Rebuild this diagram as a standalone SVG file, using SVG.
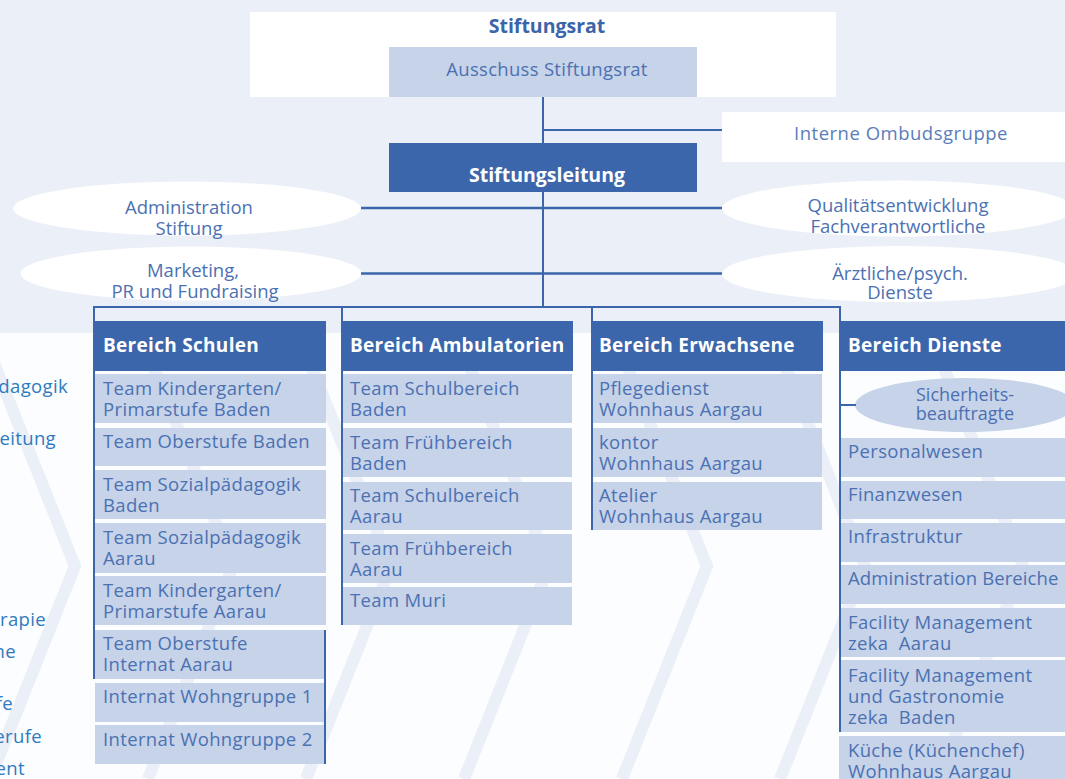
<svg xmlns="http://www.w3.org/2000/svg" width="1065" height="779" viewBox="0 0 1065 779">
<defs>
<style>
.bgt{fill:#EBEFF7}
.bgb{fill:#FCFDFE}
.chev{fill:none;stroke:#EBEFF7;stroke-width:12}
.conn{stroke:#3B66AB;stroke-width:2;fill:none}
.conn2{stroke:#3B66AB;stroke-width:2.5;fill:none}
.hdr{fill:#3B66AB}
.box{fill:#C6D3E9}
.white{fill:#FFFFFF}
.ell{fill:#FFFFFF}
.ellb{fill:#C6D3E9}
text{font-family:'Open Sans','Noto Sans','DejaVu Sans',sans-serif}
.ti{font-size:18.5px;fill:#4C71B2;letter-spacing:0.35px}
.th{font-size:19px;font-weight:bold;fill:#FFFFFF;letter-spacing:0.3px}
.tb{font-size:19.5px;font-weight:bold;text-anchor:middle}
.te{font-size:18.5px;fill:#4C71B2;text-anchor:middle}
.ts{font-size:18.5px;fill:#2E7BC0;text-anchor:end;letter-spacing:0.35px}
</style>
<clipPath id="lower"><rect x="0" y="333" width="1065" height="446"/></clipPath>
</defs>
<rect class="bgb" x="0" y="0" width="1065" height="779"/>
<rect class="bgt" x="0" y="0" width="1065" height="333"/>
<g clip-path="url(#lower)">
<polyline class="chev" points="-18,333 75,566 -10,779"/>
<polyline class="chev" points="140,333 233,566 148,779"/>
<polyline class="chev" points="298,333 391,566 306,779"/>
<polyline class="chev" points="456,333 549,566 464,779"/>
<polyline class="chev" points="614,333 707,566 622,779"/>
<polyline class="chev" points="772,333 865,566 780,779"/>
<polyline class="chev" points="930,333 1023,566 938,779"/>
</g>
<g id="side-text">
<text class="ts" x="68" y="393">dagogik</text>
<text class="ts" x="56" y="445">eitung</text>
<text class="ts" x="46" y="626">rapie</text>
<text class="ts" x="16" y="658">ne</text>
<text class="ts" x="13" y="710">fe</text>
<text class="ts" x="42" y="743">erufe</text>
<text class="ts" x="25" y="775">ent</text>
</g>
<g id="stiftungsrat">
<rect class="white" x="250" y="12" width="586" height="85"/>
<text class="tb" x="547" y="33" fill="#3A65AA">Stiftungsrat</text>
</g>
<g id="ausschuss">
<rect class="box" x="389" y="47" width="308" height="50"/>
<text class="te" x="547" y="76" style="letter-spacing:0.3px">Ausschuss Stiftungsrat</text>
</g>
<g id="ombuds">
<rect class="white" x="722" y="112" width="343" height="50"/>
<text class="te" x="901" y="140" style="letter-spacing:0.5px;fill:#5A7DBA">Interne Ombudsgruppe</text>
</g>
<g id="leitung">
<rect class="hdr" x="389" y="143" width="308" height="49"/>
<text class="tb" x="547" y="182" fill="#FFFFFF">Stiftungsleitung</text>
</g>
<g id="admin">
<ellipse class="ell" cx="187" cy="208.5" rx="174" ry="27"/>
<text class="te" x="189" y="213.5">Administration</text>
<text class="te" x="189" y="234.5">Stiftung</text>
</g>
<g id="marketing">
<ellipse class="ell" cx="191" cy="273.5" rx="170.5" ry="27"/>
<text class="te" x="193" y="277">Marketing,</text>
<text class="te" x="195" y="297.5">PR und Fundraising</text>
</g>
<g id="qualitaet">
<ellipse class="ell" cx="898" cy="208.5" rx="176" ry="28"/>
<text class="te" x="898" y="212">Qualitätsentwicklung</text>
<text class="te" x="898" y="233">Fachverantwortliche</text>
</g>
<g id="aerztlich">
<ellipse class="ell" cx="900" cy="274" rx="178" ry="28"/>
<text class="te" x="900" y="280">Ärztliche/psych.</text>
<text class="te" x="900" y="299">Dienste</text>
</g>
<g id="schulen">
<rect class="hdr" x="94" y="321" width="232" height="50"/>
<text class="th" x="103" y="352">Bereich Schulen</text>
<rect class="box" x="95" y="374" width="231" height="49"/>
<text class="ti" x="103" y="394.5">Team Kindergarten/</text>
<text class="ti" x="103" y="415.5">Primarstufe Baden</text>
<rect class="box" x="95" y="428" width="231" height="38"/>
<text class="ti" x="103" y="447.5">Team Oberstufe Baden</text>
<rect class="box" x="95" y="470" width="231" height="49"/>
<text class="ti" x="103" y="490.5">Team Sozialpädagogik</text>
<text class="ti" x="103" y="511.5">Baden</text>
<rect class="box" x="95" y="523" width="231" height="50"/>
<text class="ti" x="103" y="543.5">Team Sozialpädagogik</text>
<text class="ti" x="103" y="564.5">Aarau</text>
<rect class="box" x="95" y="576" width="231" height="49"/>
<text class="ti" x="103" y="596.5">Team Kindergarten/</text>
<text class="ti" x="103" y="617.5">Primarstufe Aarau</text>
<rect class="box" x="95" y="630" width="231" height="49"/>
<text class="ti" x="103" y="649.5">Team Oberstufe</text>
<text class="ti" x="103" y="670.5">Internat Aarau</text>
<rect class="box" x="95" y="683" width="231" height="39"/>
<text class="ti" x="103" y="703">Internat Wohngruppe 1</text>
<rect class="box" x="95" y="725" width="231" height="39"/>
<text class="ti" x="103" y="746">Internat Wohngruppe 2</text>
</g>
<g id="ambulatorien">
<rect class="hdr" x="342" y="321" width="231" height="50"/>
<text class="th" x="350" y="352">Bereich Ambulatorien</text>
<rect class="box" x="343" y="374" width="229" height="49"/>
<text class="ti" x="350" y="395">Team Schulbereich</text>
<text class="ti" x="350" y="416">Baden</text>
<rect class="box" x="343" y="428" width="229" height="49"/>
<text class="ti" x="350" y="448.5">Team Frühbereich</text>
<text class="ti" x="350" y="469.5">Baden</text>
<rect class="box" x="343" y="482" width="229" height="48"/>
<text class="ti" x="350" y="502">Team Schulbereich</text>
<text class="ti" x="350" y="523">Aarau</text>
<rect class="box" x="343" y="534" width="229" height="49"/>
<text class="ti" x="350" y="554.5">Team Frühbereich</text>
<text class="ti" x="350" y="575.5">Aarau</text>
<rect class="box" x="343" y="587" width="229" height="38"/>
<text class="ti" x="350" y="607">Team Muri</text>
</g>
<g id="erwachsene">
<rect class="hdr" x="592" y="321" width="231" height="50"/>
<text class="th" x="599" y="352">Bereich Erwachsene</text>
<rect class="box" x="593" y="374" width="229" height="49"/>
<text class="ti" x="599" y="395">Pflegedienst</text>
<text class="ti" x="599" y="416">Wohnhaus Aargau</text>
<rect class="box" x="593" y="428" width="229" height="49"/>
<text class="ti" x="599" y="448.5">kontor</text>
<text class="ti" x="599" y="469.5">Wohnhaus Aargau</text>
<rect class="box" x="593" y="482" width="229" height="48"/>
<text class="ti" x="599" y="502">Atelier</text>
<text class="ti" x="599" y="523">Wohnhaus Aargau</text>
</g>
<g id="dienste">
<rect class="hdr" x="840" y="321" width="225" height="50"/>
<text class="th" x="848" y="352">Bereich Dienste</text>
<rect class="box" x="841" y="438" width="224" height="39"/>
<text class="ti" x="848" y="458">Personalwesen</text>
<rect class="box" x="841" y="481" width="224" height="38"/>
<text class="ti" x="848" y="500.5">Finanzwesen</text>
<rect class="box" x="841" y="523" width="224" height="39"/>
<text class="ti" x="848" y="543">Infrastruktur</text>
<rect class="box" x="841" y="565" width="224" height="39"/>
<text class="ti" x="848" y="585" style="letter-spacing:0.1px">Administration Bereiche</text>
<rect class="box" x="841" y="608" width="224" height="49"/>
<text class="ti" x="848" y="628.5">Facility Management</text>
<text class="ti" x="848" y="649.5">zeka&#160; Aarau</text>
<rect class="box" x="841" y="660" width="224" height="72"/>
<text class="ti" x="848" y="681.5">Facility Management</text>
<text class="ti" x="848" y="702.5">und Gastronomie</text>
<text class="ti" x="848" y="723.5">zeka&#160; Baden</text>
<rect class="box" x="839" y="736" width="226" height="43"/>
<text class="ti" x="848" y="757">Küche (Küchenchef)</text>
<text class="ti" x="848" y="778">Wohnhaus Aargau</text>
</g>
<g id="sicherheit">
<ellipse class="ellb" cx="965" cy="405" rx="110" ry="27"/>
<text class="te" x="965" y="401" style="font-size:18px">Sicherheits-</text>
<text class="te" x="965" y="420" style="font-size:18px">beauftragte</text>
</g>
<g id="connectors">
<line class="conn" x1="543" y1="97" x2="543" y2="143"/>
<line class="conn" x1="543" y1="130" x2="722" y2="130"/>
<line class="conn" x1="543" y1="192" x2="543" y2="307"/>
<line class="conn2" x1="361" y1="208" x2="722" y2="208"/>
<line class="conn2" x1="361" y1="273.5" x2="722" y2="273.5"/>
<line class="conn" x1="93" y1="307" x2="841" y2="307"/>
<line class="conn" x1="94" y1="306" x2="94" y2="679"/>
<line class="conn" x1="342" y1="306" x2="342" y2="625"/>
<line class="conn" x1="592" y1="306" x2="592" y2="530"/>
<line class="conn" x1="840" y1="306" x2="840" y2="732"/>
<line class="conn" x1="840" y1="405" x2="856" y2="405"/>
<line class="conn" x1="325" y1="630" x2="325" y2="764"/>
</g>
</svg>
